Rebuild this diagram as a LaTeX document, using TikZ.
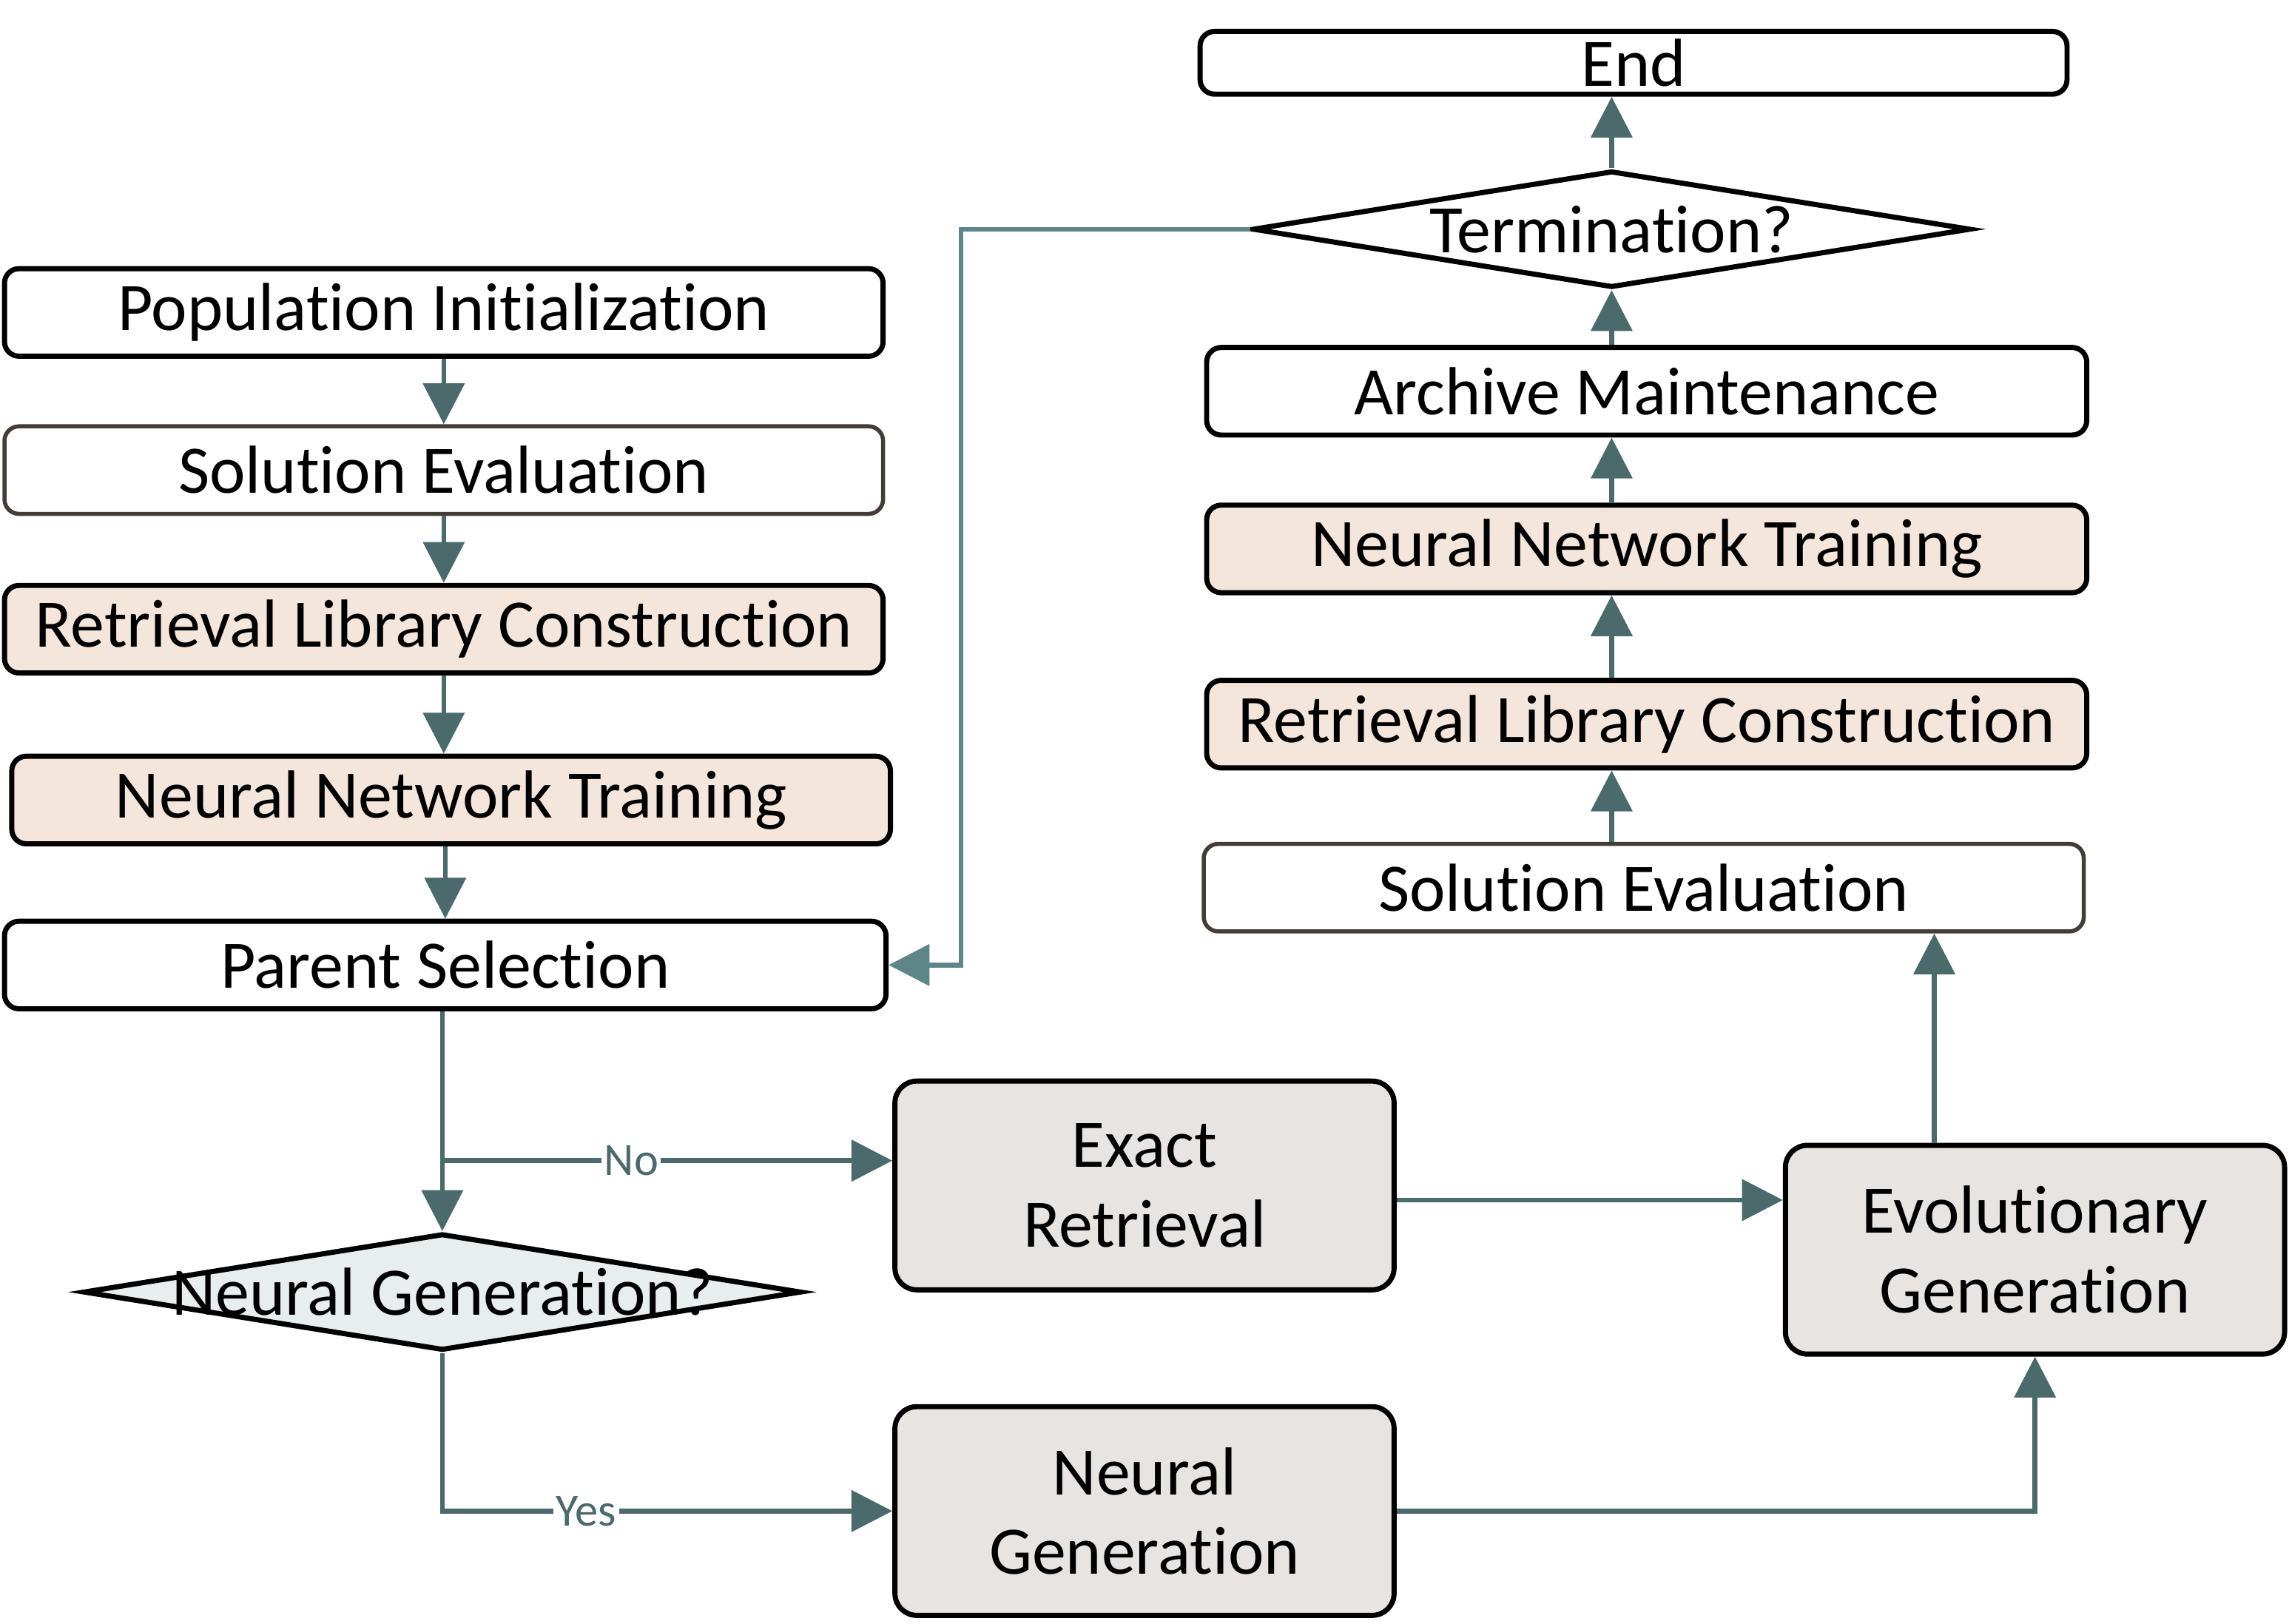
\documentclass[tikz,border=0pt]{standalone}
\usepackage{fontspec}
\setmainfont{Carlito}[Ligatures={NoCommon,NoContextual,NoRequired}]
\usetikzlibrary{shapes.geometric,arrows.meta}
\definecolor{slate}{HTML}{4A6A6B}
\definecolor{backline}{HTML}{5E8686}
\definecolor{beige}{HTML}{F4E6DA}
\definecolor{boxgray}{HTML}{E7E4E1}
\definecolor{qfill}{HTML}{E8EDED}
\definecolor{evalline}{HTML}{453C37}
\tikzset{box/.style = {draw, fill=white, line width=2pt, rectangle, rounded corners=0.2cm, minimum width=12.04cm, minimum height=1.2cm, inner sep=0pt, font=\fontsize{26.5}{31}\selectfont}}
\tikzset{libbox/.style = {box, fill=beige}, evalbox/.style = {box, draw=evalline, line width=1.6pt}}
\tikzset{bigbox/.style = {box, fill=boxgray, rounded corners=0.3cm, minimum width=6.84cm, minimum height=2.86cm, align=center}}
\tikzset{decision/.style = {draw, diamond, line width=2pt, inner sep=0pt, minimum width=9.84cm, minimum height=1.6cm}}
\tikzset{flow/.style = {draw=slate, line width=1.9pt, -{Triangle[length=0.56cm,width=0.56cm]}}, back/.style = {flow, draw=backline}}
\tikzset{lbl/.style = {fill=white, text=slate, inner sep=1pt, font=\fontsize{18}{20}\selectfont}}
\begin{document}
\begin{tikzpicture}[x=0.02cm,y=-0.02cm]
    \useasboundingbox(0,0)rectangle(1568,1112);
    \node[box](pop)at(304,214){Population Initialization};
    \node[evalbox](evalA)at(304,322){Solution Evaluation};
    \node[libbox](libA)at(304,431){Retrieval Library Construction};
    \node[libbox](trainA)at(309,548){Neural Network Training};
    \node[box,minimum width=12.08cm](parent)at(305,661){Parent Selection};
    \node[decision,fill=qfill](ngq)at(303,885){};
    \node[font=\fontsize{26.5}{31}\selectfont](ngqtext)at(ngq){Neural Generation?};
    \node[bigbox](exact)at(784,812){Exact\\Retrieval};
    \node[bigbox](neural)at(784,1035){Neural\\Generation};
    \node[bigbox](evo)at(1394,856){Evolutionary\\Generation};
    \node[evalbox,minimum width=12.06cm](evalB)at(1126,608){Solution Evaluation};
    \node[libbox,minimum width=12.06cm](libB)at(1128,496){Retrieval Library Construction};
    \node[libbox,minimum width=12.06cm](trainB)at(1128,376){Neural Network Training};
    \node[box,minimum width=12.06cm](arch)at(1128,268){Archive Maintenance};
    \node[decision,fill=white](term)at(1104,157){};
    \node[font=\fontsize{26.5}{31}\selectfont](termtext)at(term){Termination?};
    \node[box,minimum width=11.88cm,minimum height=0.86cm](end)at(1119,43){End};
    \coordinate(split)at(303,795);
    \draw[flow](pop.south)--(evalA.north);
    \draw[flow](evalA.south)--(libA.north);
    \draw[flow](libA.south)--(libA.south|-trainA.north);
    \draw[flow](trainA.south-|parent.north)--(parent.north);
    \draw[flow](parent.south-|ngq.north)--(ngq.north);
    \draw[flow](split)--(split-|exact.west)node[lbl,pos=0.42]{No};
    \draw[flow](ngq.south)|-(neural.west)node[lbl,pos=0.66]{Yes};
    \draw[flow]([yshift=-0.2cm]exact.east)--([yshift=-0.2cm]exact.east-|evo.west);
    \draw[flow](neural.east)-|(evo.south);
    \draw[flow]([xshift=-1.38cm]evo.north)--([xshift=-1.38cm]evo.north|-evalB.south);
    \draw[flow](evalB.north-|term.south)--(libB.south-|term.south);
    \draw[flow](libB.north-|term.south)--(trainB.south-|term.south);
    \draw[flow](trainB.north-|term.south)--(arch.south-|term.south);
    \draw[flow](arch.north-|term.south)--(term.south);
    \draw[flow](term.north)--(term.north|-end.south);
    \draw[back](term.west)--++(-198,0)|-(parent.east);
\end{tikzpicture}
\end{document}
